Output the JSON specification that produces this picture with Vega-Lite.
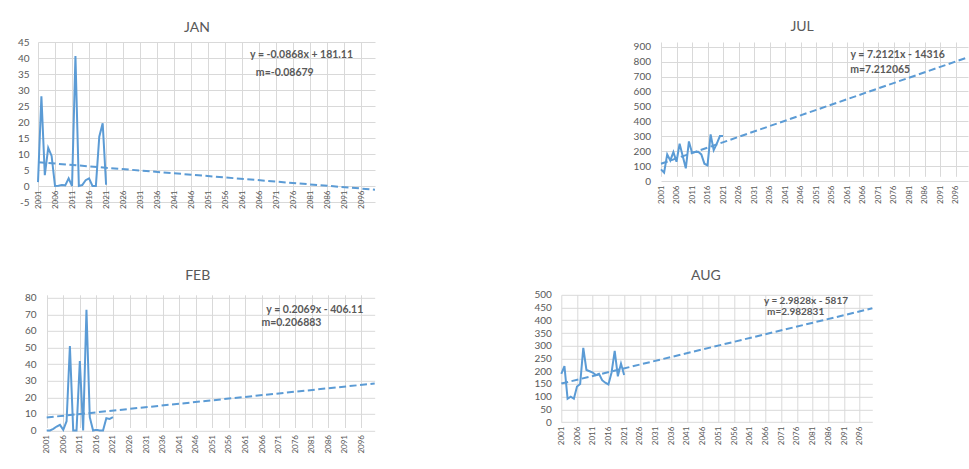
{
  "$schema": "https://vega.github.io/schema/vega-lite/v6.json",
  "padding": {"left": 8, "top": 19, "right": 0, "bottom": 0},
  "background": "white",
  "datasets": {
    "obs": [
      {"month": "JAN", "year": 2001, "value": 1.2}, {"month": "JAN", "year": 2002, "value": 28}, {"month": "JAN", "year": 2003, "value": 3.4}, {"month": "JAN", "year": 2004, "value": 11.9}, {"month": "JAN", "year": 2005, "value": 9.4}, {"month": "JAN", "year": 2006, "value": 0}, {"month": "JAN", "year": 2007, "value": 0.1}, {"month": "JAN", "year": 2008, "value": 0.3}, {"month": "JAN", "year": 2009, "value": 0.2}, {"month": "JAN", "year": 2010, "value": 2.4}, {"month": "JAN", "year": 2011, "value": 0}, {"month": "JAN", "year": 2012, "value": 40.6}, {"month": "JAN", "year": 2013, "value": 0}, {"month": "JAN", "year": 2014, "value": 0.3}, {"month": "JAN", "year": 2015, "value": 1.8}, {"month": "JAN", "year": 2016, "value": 2.4}, {"month": "JAN", "year": 2017, "value": 0}, {"month": "JAN", "year": 2018, "value": 0}, {"month": "JAN", "year": 2019, "value": 15.4}, {"month": "JAN", "year": 2020, "value": 19.6}, {"month": "JAN", "year": 2021, "value": 0.4},
      {"month": "FEB", "year": 2001, "value": 0}, {"month": "FEB", "year": 2002, "value": 0}, {"month": "FEB", "year": 2003, "value": 1}, {"month": "FEB", "year": 2004, "value": 2.4}, {"month": "FEB", "year": 2005, "value": 3.4}, {"month": "FEB", "year": 2006, "value": 0.4}, {"month": "FEB", "year": 2007, "value": 5.6}, {"month": "FEB", "year": 2008, "value": 50.9}, {"month": "FEB", "year": 2009, "value": 0}, {"month": "FEB", "year": 2010, "value": 0}, {"month": "FEB", "year": 2011, "value": 41.8}, {"month": "FEB", "year": 2012, "value": 0}, {"month": "FEB", "year": 2013, "value": 72.8}, {"month": "FEB", "year": 2014, "value": 8}, {"month": "FEB", "year": 2015, "value": 0}, {"month": "FEB", "year": 2016, "value": 0.4}, {"month": "FEB", "year": 2017, "value": 0}, {"month": "FEB", "year": 2018, "value": 0}, {"month": "FEB", "year": 2019, "value": 7.4}, {"month": "FEB", "year": 2020, "value": 7}, {"month": "FEB", "year": 2021, "value": 8},
      {"month": "JUL", "year": 2001, "value": 78}, {"month": "JUL", "year": 2002, "value": 56}, {"month": "JUL", "year": 2003, "value": 179}, {"month": "JUL", "year": 2004, "value": 138}, {"month": "JUL", "year": 2005, "value": 194}, {"month": "JUL", "year": 2006, "value": 129}, {"month": "JUL", "year": 2007, "value": 250}, {"month": "JUL", "year": 2008, "value": 167}, {"month": "JUL", "year": 2009, "value": 85}, {"month": "JUL", "year": 2010, "value": 265}, {"month": "JUL", "year": 2011, "value": 190}, {"month": "JUL", "year": 2012, "value": 194}, {"month": "JUL", "year": 2013, "value": 196}, {"month": "JUL", "year": 2014, "value": 178}, {"month": "JUL", "year": 2015, "value": 116}, {"month": "JUL", "year": 2016, "value": 105}, {"month": "JUL", "year": 2017, "value": 312}, {"month": "JUL", "year": 2018, "value": 207}, {"month": "JUL", "year": 2019, "value": 250}, {"month": "JUL", "year": 2020, "value": 301}, {"month": "JUL", "year": 2021, "value": 301},
      {"month": "AUG", "year": 2001, "value": 190}, {"month": "AUG", "year": 2002, "value": 220}, {"month": "AUG", "year": 2003, "value": 92}, {"month": "AUG", "year": 2004, "value": 100}, {"month": "AUG", "year": 2005, "value": 92}, {"month": "AUG", "year": 2006, "value": 140}, {"month": "AUG", "year": 2007, "value": 150}, {"month": "AUG", "year": 2008, "value": 292}, {"month": "AUG", "year": 2009, "value": 205}, {"month": "AUG", "year": 2010, "value": 200}, {"month": "AUG", "year": 2011, "value": 195}, {"month": "AUG", "year": 2012, "value": 185}, {"month": "AUG", "year": 2013, "value": 190}, {"month": "AUG", "year": 2014, "value": 165}, {"month": "AUG", "year": 2015, "value": 155}, {"month": "AUG", "year": 2016, "value": 148}, {"month": "AUG", "year": 2017, "value": 195}, {"month": "AUG", "year": 2018, "value": 280}, {"month": "AUG", "year": 2019, "value": 180}, {"month": "AUG", "year": 2020, "value": 230}, {"month": "AUG", "year": 2021, "value": 185}
    ],
    "trend": [
      {"month": "JAN", "year": 2001, "value": 7.44}, {"month": "JAN", "year": 2100, "value": -1.15},
      {"month": "FEB", "year": 2001, "value": 7.86}, {"month": "FEB", "year": 2100, "value": 28.34},
      {"month": "JUL", "year": 2001, "value": 115.3}, {"month": "JUL", "year": 2100, "value": 829.3},
      {"month": "AUG", "year": 2001, "value": 151.6}, {"month": "AUG", "year": 2100, "value": 446.9}
    ],
    "notes": [
      {"month": "JAN", "year": 2063.3, "value": 40.9, "label": "y = -0.0868x + 181.11"}, {"month": "JAN", "year": 2065, "value": 35.4, "label": "m=-0.08679"},
      {"month": "JUL", "year": 2062.1, "value": 842, "label": "y = 7.2121x - 14316"}, {"month": "JUL", "year": 2062, "value": 744, "label": "m=7.212065"},
      {"month": "FEB", "year": 2067.3, "value": 72.8, "label": "y = 0.2069x - 406.11"}, {"month": "FEB", "year": 2065.8, "value": 64.7, "label": "m=0.206883"},
      {"month": "AUG", "year": 2065.5, "value": 475, "label": "y = 2.9828x - 5817"}, {"month": "AUG", "year": 2066.5, "value": 431.7, "label": "m=2.982831"}
    ]
  },
  "concat": [
    {
      "columns": 2,
      "align": "none",
      "spacing": 252,
      "concat": [
        {
          "width": 337, "height": 160,
          "title": {"text": "JAN", "dx": -9.5, "offset": 2.5},
          "layer": [
            {"data": {"name": "obs"}, "transform": [{"filter": "datum.month === 'JAN'"}],
             "mark": {"type": "line", "color": "#5B9BD5", "strokeWidth": 2},
             "encoding": {
               "x": {"field": "year", "type": "quantitative", "scale": {"domain": [2001, 2100], "nice": false, "zero": false}, "axis": {"title": null, "tickCount": 200, "values": [2001, 2006, 2011, 2016, 2021, 2026, 2031, 2036, 2041, 2046, 2051, 2056, 2061, 2066, 2071, 2076, 2081, 2086, 2091, 2096], "format": "d", "labelPadding": -12}},
               "y": {"field": "value", "type": "quantitative", "scale": {"domain": [-5, 45], "nice": false, "zero": false}, "axis": {"title": null, "tickCount": 200, "values": [-5, 0, 5, 10, 15, 20, 25, 30, 35, 40, 45], "labelExpr": "datum.value + ''", "minExtent": 30, "labelPadding": 9}}
             }},
            {"data": {"name": "trend"}, "transform": [{"filter": "datum.month === 'JAN'"}],
             "mark": {"type": "line", "color": "#5B9BD5", "strokeWidth": 2, "strokeDash": [7, 3.5]},
             "encoding": {"x": {"field": "year", "type": "quantitative", "title": null}, "y": {"field": "value", "type": "quantitative", "title": null}}},
            {"data": {"name": "notes"}, "transform": [{"filter": "datum.month === 'JAN'"}],
             "mark": {"type": "text", "align": "left", "baseline": "middle", "fontWeight": "bold", "fontSize": 10.5, "color": "#595959", "font": "Lato"},
             "encoding": {"x": {"field": "year", "type": "quantitative", "title": null}, "y": {"field": "value", "type": "quantitative", "title": null}, "text": {"field": "label"}}}
          ]
        },
        {
          "width": 307, "height": 139,
          "title": {"text": "JUL", "dx": -12.4, "offset": 8.2},
          "layer": [
            {"data": {"name": "obs"}, "transform": [{"filter": "datum.month === 'JUL'"}],
             "mark": {"type": "line", "color": "#5B9BD5", "strokeWidth": 2},
             "encoding": {
               "x": {"field": "year", "type": "quantitative", "scale": {"domain": [2001, 2100], "nice": false, "zero": false}, "axis": {"title": null, "tickCount": 200, "values": [2001, 2006, 2011, 2016, 2021, 2026, 2031, 2036, 2041, 2046, 2051, 2056, 2061, 2066, 2071, 2076, 2081, 2086, 2091, 2096], "format": "d"}},
               "y": {"field": "value", "type": "quantitative", "scale": {"domain": [0, 900], "range": [139, 4.7], "nice": false, "zero": false}, "axis": {"title": null, "tickCount": 200, "values": [0, 100, 200, 300, 400, 500, 600, 700, 800, 900], "format": "d", "minExtent": 30, "labelPadding": 10.5}}
             }},
            {"data": {"name": "trend"}, "transform": [{"filter": "datum.month === 'JUL'"}],
             "mark": {"type": "line", "color": "#5B9BD5", "strokeWidth": 2, "strokeDash": [7, 3.5]},
             "encoding": {"x": {"field": "year", "type": "quantitative", "title": null}, "y": {"field": "value", "type": "quantitative", "title": null}}},
            {"data": {"name": "notes"}, "transform": [{"filter": "datum.month === 'JUL'"}],
             "mark": {"type": "text", "align": "left", "baseline": "middle", "fontWeight": "bold", "fontSize": 10.5, "color": "#595959", "font": "Lato"},
             "encoding": {"x": {"field": "year", "type": "quantitative", "title": null}, "y": {"field": "value", "type": "quantitative", "title": null}, "text": {"field": "label"}}}
          ]
        }
      ]
    },
    {
      "columns": 2,
      "align": "none",
      "spacing": 152.3,
      "concat": [
        {
          "width": 336.7, "height": 135.7,
          "title": {"text": "FEB", "dx": -8.65, "offset": 9.5},
          "layer": [
            {"data": {"name": "obs"}, "transform": [{"filter": "datum.month === 'FEB'"}],
             "mark": {"type": "line", "color": "#5B9BD5", "strokeWidth": 2},
             "encoding": {
               "x": {"field": "year", "type": "quantitative", "scale": {"domain": [2001, 2100], "range": [8.7, 336.7], "nice": false, "zero": false}, "axis": {"title": null, "tickCount": 200, "values": [2001, 2006, 2011, 2016, 2021, 2026, 2031, 2036, 2041, 2046, 2051, 2056, 2061, 2066, 2071, 2076, 2081, 2086, 2091, 2096], "format": "d"}},
               "y": {"field": "value", "type": "quantitative", "scale": {"domain": [0, 80], "range": [135.7, 3], "nice": false, "zero": false}, "axis": {"title": null, "tickCount": 200, "values": [0, 10, 20, 30, 40, 50, 60, 70, 80], "format": "d", "minExtent": 30, "labelPadding": 2}}
             }},
            {"data": {"name": "trend"}, "transform": [{"filter": "datum.month === 'FEB'"}],
             "mark": {"type": "line", "color": "#5B9BD5", "strokeWidth": 2, "strokeDash": [7, 3.5]},
             "encoding": {"x": {"field": "year", "type": "quantitative", "title": null}, "y": {"field": "value", "type": "quantitative", "title": null}}},
            {"data": {"name": "notes"}, "transform": [{"filter": "datum.month === 'FEB'"}],
             "mark": {"type": "text", "align": "left", "baseline": "middle", "fontWeight": "bold", "fontSize": 10.5, "color": "#595959", "font": "Lato"},
             "encoding": {"x": {"field": "year", "type": "quantitative", "title": null}, "y": {"field": "value", "type": "quantitative", "title": null}, "text": {"field": "label"}}}
          ]
        },
        {
          "width": 311, "height": 127.4,
          "title": {"text": "AUG", "dx": -11, "offset": 6.5},
          "layer": [
            {"data": {"name": "obs"}, "transform": [{"filter": "datum.month === 'AUG'"}],
             "mark": {"type": "line", "color": "#5B9BD5", "strokeWidth": 2},
             "encoding": {
               "x": {"field": "year", "type": "quantitative", "scale": {"domain": [2001, 2100], "nice": false, "zero": false}, "axis": {"title": null, "tickCount": 200, "values": [2001, 2006, 2011, 2016, 2021, 2026, 2031, 2036, 2041, 2046, 2051, 2056, 2061, 2066, 2071, 2076, 2081, 2086, 2091, 2096], "format": "d"}},
               "y": {"field": "value", "type": "quantitative", "scale": {"domain": [0, 500], "nice": false, "zero": false}, "axis": {"title": null, "tickCount": 200, "values": [0, 50, 100, 150, 200, 250, 300, 350, 400, 450, 500], "format": "d", "minExtent": 30, "labelPadding": 10}}
             }},
            {"data": {"name": "trend"}, "transform": [{"filter": "datum.month === 'AUG'"}],
             "mark": {"type": "line", "color": "#5B9BD5", "strokeWidth": 2, "strokeDash": [7, 3.5]},
             "encoding": {"x": {"field": "year", "type": "quantitative", "title": null}, "y": {"field": "value", "type": "quantitative", "title": null}}},
            {"data": {"name": "notes"}, "transform": [{"filter": "datum.month === 'AUG'"}],
             "mark": {"type": "text", "align": "left", "baseline": "middle", "fontWeight": "bold", "fontSize": 10, "color": "#595959", "font": "Lato"},
             "encoding": {"x": {"field": "year", "type": "quantitative", "title": null}, "y": {"field": "value", "type": "quantitative", "title": null}, "text": {"field": "label"}}}
          ]
        }
      ]
    }
  ],
  "columns": 1,
  "align": "none",
  "spacing": 59.8,
  "config": {
    "view": {"stroke": null},
    "font": "Lato",
    "axis": {"domain": false, "ticks": false, "tickSize": 0, "grid": true, "gridColor": "#d9d9d9", "gridWidth": 1, "labelColor": "#595959", "labelFont": "Lato", "labelFlush": false, "labelOverlap": false},
    "axisX": {"labelAngle": 270, "labelFontSize": 8, "labelPadding": 4},
    "axisY": {"labelFontSize": 10},
    "title": {"font": "Lato", "fontSize": 14, "fontWeight": "normal", "color": "#595959"}
  }
}
